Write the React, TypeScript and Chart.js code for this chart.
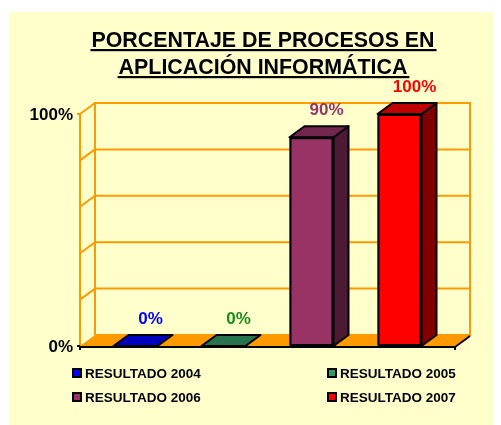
import React, { useEffect, useRef } from "react";
import { Chart, registerables } from "chart.js";

Chart.register(...registerables);

const categories = [""];
const seriesLabels = ["RESULTADO 2004", "RESULTADO 2005", "RESULTADO 2006", "RESULTADO 2007"];
const seriesValues = [0, 0, 90, 100];
const seriesColors = ["#0000FF", "#339966", "#993366", "#FF0000"];
const labelColors = ["#0000FF", "#1A8C1A", "#993366", "#FF0000"];
const yTickValues = [0, 100];
const yTickLabels = ["0%", "100%"];
const gridValues = [0, 20, 40, 60, 80, 100];
const titleLines = ["PORCENTAJE DE PROCESOS EN", "APLICACIÓN INFORMÁTICA"];

const FONT = '"Liberation Sans", Arial, sans-serif';
const ORANGE = "#FF9900";
const BG = "#FFFFCC";
const DX = 15;
const DY = -11;

function shade(hex: string, f: number) {
  const n = parseInt(hex.slice(1), 16);
  const r = Math.round(((n >> 16) & 255) * f);
  const g = Math.round(((n >> 8) & 255) * f);
  const b = Math.round((n & 255) * f);
  return `rgb(${r},${g},${b})`;
}

function poly(ctx: CanvasRenderingContext2D, pts: number[][], fill: string | null, stroke: string | null, lw = 2) {
  ctx.beginPath();
  ctx.moveTo(pts[0][0], pts[0][1]);
  for (let i = 1; i < pts.length; i++) ctx.lineTo(pts[i][0], pts[i][1]);
  ctx.closePath();
  if (fill) {
    ctx.fillStyle = fill;
    ctx.fill();
  }
  if (stroke) {
    ctx.strokeStyle = stroke;
    ctx.lineWidth = lw;
    ctx.stroke();
  }
}

function line(ctx: CanvasRenderingContext2D, x1: number, y1: number, x2: number, y2: number, color: string, lw = 2) {
  ctx.beginPath();
  ctx.moveTo(x1, y1);
  ctx.lineTo(x2, y2);
  ctx.strokeStyle = color;
  ctx.lineWidth = lw;
  ctx.stroke();
}

const threeD = {
  id: "threeD",
  beforeDraw(chart: any) {
    const ctx = chart.ctx as CanvasRenderingContext2D;
    ctx.save();
    ctx.fillStyle = BG;
    ctx.fillRect(1, 4, chart.width - 1, chart.height - 4);
    ctx.fillStyle = "#000";
    ctx.font = `bold 21.4px ${FONT}`;
    ctx.textAlign = "center";
    ctx.textBaseline = "alphabetic";
    const cx = 255;
    const baselines = [39, 66];
    titleLines.forEach((t, i) => {
      ctx.fillText(t, cx, baselines[i]);
      const w = ctx.measureText(t).width;
      ctx.fillRect(cx - w / 2 - 1, baselines[i] + 2, w + 3, 2.2);
    });
    ctx.restore();
  },
  beforeDatasetsDraw(chart: any) {
    const ctx = chart.ctx as CanvasRenderingContext2D;
    const ys = chart.scales.y;
    const { left, right } = chart.chartArea;
    const y0 = ys.getPixelForValue(0);
    const y100 = ys.getPixelForValue(100);
    ctx.save();
    ctx.lineCap = "butt";
    poly(ctx, [[left, y0], [left + DX, y0 + DY], [right + DX, y0 + DY], [right, y0]], ORANGE, null);
    gridValues.forEach((v) => {
      const y = ys.getPixelForValue(v);
      line(ctx, left + DX, y + DY, right + DX, y + DY, ORANGE);
      if (v > 0) line(ctx, left, y, left + DX, y + DY, ORANGE);
    });
    line(ctx, left + DX, y100 + DY - 1, left + DX, y0 + DY, ORANGE);
    line(ctx, right + DX, y100 + DY - 1, right + DX, y0 + DY + 1, ORANGE);
    line(ctx, left, y100 - 1, left, y0, ORANGE);
    ctx.font = `bold 17px ${FONT}`;
    ctx.textAlign = "right";
    ctx.textBaseline = "middle";
    ctx.fillStyle = "#000";
    yTickValues.forEach((v, i) => {
      const y = ys.getPixelForValue(v);
      line(ctx, left - 3, y, left, y, v === 0 ? "#000" : ORANGE);
      ctx.fillText(yTickLabels[i], left - 7, y + 1);
    });
    line(ctx, left - 1, y0 + 1, right, y0 + 1, "#000");
    line(ctx, right, y0 + 1, right + DX, y0 + DY + 1, "#000");
    line(ctx, left, y0, left, y0 + 4, "#000");
    line(ctx, right, y0, right, y0 + 4, "#000");
    ctx.restore();
  },
  afterDatasetsDraw(chart: any) {
    const ctx = chart.ctx as CanvasRenderingContext2D;
    ctx.save();
    ctx.lineJoin = "round";
    chart.data.datasets.forEach((ds: any, i: number) => {
      const meta = chart.getDatasetMeta(i);
      meta.data.forEach((bar: any) => {
        const xl = bar.x - bar.width / 2;
        const xr = bar.x + bar.width / 2;
        const yt = bar.y;
        const yb = bar.base;
        const col = seriesColors[i];
        if (yb - yt > 0.5) {
          poly(ctx, [[xr, yt], [xr + DX, yt + DY], [xr + DX, yb + DY], [xr, yb]], shade(col, 0.5), "#000");
          poly(ctx, [[xl + 1, yt + 1], [xr - 1, yt + 1], [xr - 1, yb - 1], [xl + 1, yb - 1]], null, "#000");
        }
        poly(ctx, [[xl, yt], [xl + DX, yt + DY], [xr + DX, yt + DY], [xr, yt]], shade(col, 0.75), "#000");
        ctx.font = `bold 17px ${FONT}`;
        ctx.textAlign = "center";
        ctx.textBaseline = "middle";
        ctx.fillStyle = labelColors[i];
        ctx.fillText(`${ds.data[0]}%`, bar.x + 15, yt + DY - 16);
      });
    });
    ctx.restore();
  },
  afterDraw(chart: any) {
    const ctx = chart.ctx as CanvasRenderingContext2D;
    ctx.save();
    ctx.font = `bold 13.5px ${FONT}`;
    ctx.textAlign = "left";
    ctx.textBaseline = "middle";
    const colX = [64, 319];
    const rowY = [365, 389];
    chart.data.datasets.forEach((ds: any, i: number) => {
      const x = colX[i % 2];
      const y = rowY[Math.floor(i / 2)];
      ctx.fillStyle = "#000";
      ctx.fillRect(x, y - 5, 10, 10);
      ctx.fillStyle = seriesColors[i];
      ctx.fillRect(x + 2, y - 3, 6, 6);
      ctx.fillStyle = "#000";
      ctx.fillText(ds.label, x + 13, y + 1);
    });
    ctx.restore();
  },
};

export default function App() {
  const ref = useRef<HTMLCanvasElement>(null);
  useEffect(() => {
    if (!ref.current) return;
    const chart = new Chart(ref.current, {
      type: "bar",
      data: {
        labels: categories,
        datasets: seriesLabels.map((label, i) => ({
          label,
          data: [seriesValues[i]],
          backgroundColor: seriesColors[i],
          borderColor: "#000",
          borderWidth: 0,
          categoryPercentage: 0.9387,
          barPercentage: 0.5,
        })),
      },
      options: {
        responsive: false,
        maintainAspectRatio: false,
        animation: false,
        devicePixelRatio: 1,
        layout: { padding: { left: 72, right: 46, top: 106, bottom: 79 } },
        plugins: { legend: { display: false }, title: { display: false }, tooltip: { enabled: false } },
        scales: {
          x: { display: false },
          y: { display: false, min: 0, max: 100 },
        },
      },
      plugins: [threeD],
    });
    return () => chart.destroy();
  }, []);
  return (
    <div style={{ width: 493, height: 417 }}>
      <canvas ref={ref} width={493} height={417} style={{ display: "block" }} />
    </div>
  );
}
